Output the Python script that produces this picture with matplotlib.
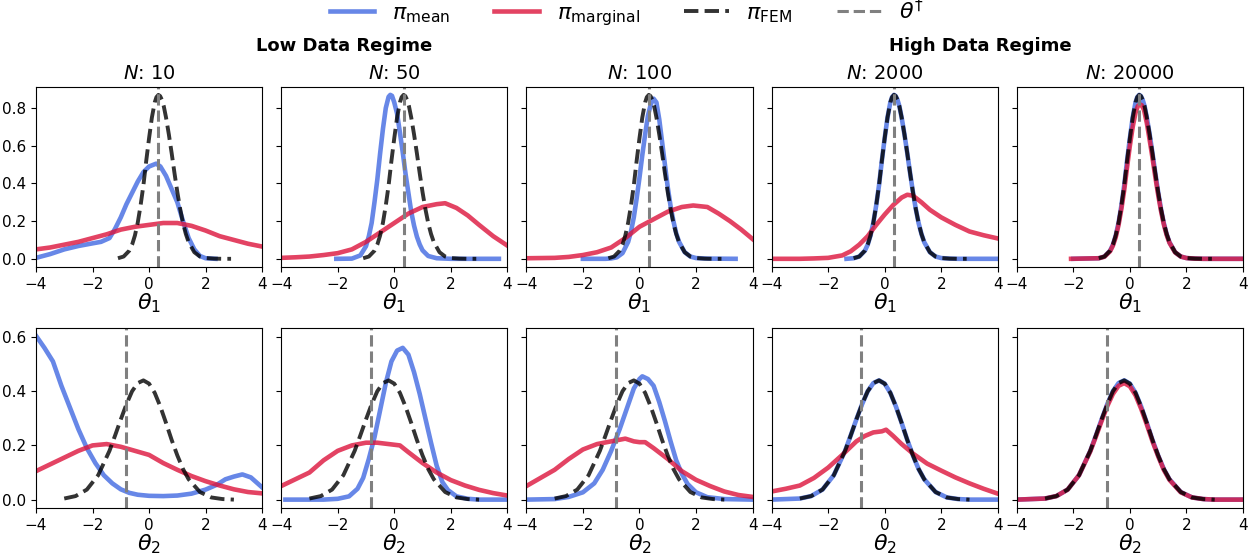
import matplotlib
matplotlib.use("Agg")
import matplotlib.pyplot as plt

# sample sizes per column
Ns = [10, 50, 100, 2000, 20000]
theta_true = [0.33, -0.82]

# ---- theta_1 (top row) ----
fem_t1_x = [-1.1, -0.9, -0.7, -0.6, -0.5, -0.4, -0.3, -0.2, -0.1, 0.0, 0.1, 0.2, 0.26, 0.33, 0.39, 0.45, 0.52, 0.6, 0.7, 0.8, 0.9, 1.0, 1.1, 1.2, 1.3, 1.4, 1.6, 1.8, 2.0, 2.3, 2.6, 2.9]
fem_t1_y = [0.003, 0.012, 0.043, 0.075, 0.124, 0.192, 0.283, 0.39, 0.52, 0.64, 0.75, 0.83, 0.858, 0.87, 0.864, 0.845, 0.81, 0.75, 0.66, 0.56, 0.454, 0.354, 0.265, 0.19, 0.132, 0.088, 0.035, 0.012, 0.004, 0.001, 0.0, 0.0]

mean_t1_10_x = [-4, -3.5, -3, -2.5, -2, -1.7, -1.4, -1.2, -1.0, -0.8, -0.6, -0.4, -0.2, 0.0, 0.25, 0.4, 0.6, 0.8, 1.0, 1.2, 1.4, 1.6, 1.8, 2.0, 2.35]
mean_t1_10_y = [0.005, 0.025, 0.05, 0.068, 0.082, 0.09, 0.11, 0.16, 0.22, 0.29, 0.35, 0.41, 0.46, 0.49, 0.505, 0.49, 0.44, 0.37, 0.30, 0.2, 0.11, 0.05, 0.015, 0.003, 0.0]
marg_t1_10_x = [-4, -3.5, -3, -2.5, -2, -1.5, -1, -0.5, 0, 0.5, 1, 1.5, 2, 2.5, 3, 3.5, 4]
marg_t1_10_y = [0.05, 0.06, 0.075, 0.09, 0.11, 0.13, 0.155, 0.17, 0.18, 0.19, 0.19, 0.175, 0.15, 0.12, 0.1, 0.08, 0.065]

mean_t1_50_x = [-2.05, -1.5, -1.2, -1.0, -0.9, -0.8, -0.7, -0.6, -0.5, -0.4, -0.3, -0.2, -0.14, -0.08, 0.0, 0.1, 0.2, 0.3, 0.4, 0.5, 0.6, 0.7, 0.8, 0.9, 1.0, 1.2, 1.5, 2.0, 3.7]
mean_t1_50_y = [0, 0.001, 0.018, 0.067, 0.119, 0.19, 0.30, 0.42, 0.56, 0.69, 0.80, 0.86, 0.87, 0.865, 0.83, 0.77, 0.67, 0.565, 0.45, 0.35, 0.25, 0.176, 0.118, 0.076, 0.045, 0.015, 0.003, 0, 0]
marg_t1_50_x = [-4, -3.5, -3, -2.5, -2, -1.5, -1, -0.5, 0, 0.5, 1, 1.5, 1.8, 2.2, 2.6, 3, 3.5, 4]
marg_t1_50_y = [0.005, 0.008, 0.012, 0.02, 0.03, 0.05, 0.09, 0.14, 0.19, 0.24, 0.275, 0.29, 0.295, 0.27, 0.23, 0.18, 0.12, 0.07]

mean_t1_100_x = [-2.0, -1.2, -1.0, -0.8, -0.6, -0.4, -0.3, -0.2, -0.1, 0.0, 0.1, 0.2, 0.3, 0.4, 0.5, 0.6, 0.7, 0.8, 0.9, 1.0, 1.1, 1.2, 1.3, 1.4, 1.6, 1.8, 2.0, 2.4, 3.4]
mean_t1_100_y = [0, 0, 0.002, 0.008, 0.03, 0.09, 0.145, 0.22, 0.32, 0.43, 0.55, 0.66, 0.76, 0.82, 0.85, 0.83, 0.74, 0.62, 0.5, 0.38, 0.28, 0.2, 0.135, 0.09, 0.035, 0.012, 0.004, 0.001, 0]
marg_t1_100_x = [-4, -3, -2.5, -2, -1.5, -1, -0.5, 0, 0.5, 1, 1.5, 1.9, 2.4, 2.8, 3.2, 3.6, 4]
marg_t1_100_y = [0.003, 0.005, 0.01, 0.02, 0.035, 0.06, 0.11, 0.17, 0.21, 0.25, 0.275, 0.283, 0.275, 0.24, 0.2, 0.155, 0.105]

mean_t1_2000_x = [-1.35, -1.1, -0.9, -0.7, -0.6, -0.5, -0.4, -0.3, -0.2, -0.1, 0.0, 0.1, 0.2, 0.26, 0.33, 0.39, 0.45, 0.52, 0.6, 0.7, 0.8, 0.9, 1.0, 1.1, 1.2, 1.3, 1.4, 1.6, 1.8, 2.0, 2.3, 2.6, 3.0, 4.0]
mean_t1_2000_y = [0, 0.003, 0.012, 0.043, 0.075, 0.124, 0.192, 0.283, 0.39, 0.52, 0.64, 0.75, 0.83, 0.858, 0.87, 0.864, 0.845, 0.81, 0.75, 0.66, 0.56, 0.454, 0.354, 0.265, 0.19, 0.132, 0.088, 0.035, 0.012, 0.004, 0.001, 0, 0, 0]
marg_t1_2000_x = [-4, -3, -2.5, -2, -1.5, -1.2, -0.9, -0.6, -0.3, 0, 0.3, 0.6, 0.8, 1.0, 1.3, 1.6, 2.0, 2.5, 3.0, 3.5, 4.0]
marg_t1_2000_y = [0, 0, 0.002, 0.005, 0.018, 0.04, 0.075, 0.12, 0.18, 0.235, 0.285, 0.325, 0.34, 0.335, 0.3, 0.26, 0.22, 0.18, 0.145, 0.125, 0.108]

mean_t1_20000_x = [-2.0, -1.1, -0.9, -0.7, -0.6, -0.5, -0.4, -0.3, -0.2, -0.1, 0.0, 0.1, 0.2, 0.26, 0.33, 0.39, 0.45, 0.52, 0.6, 0.7, 0.8, 0.9, 1.0, 1.1, 1.2, 1.3, 1.4, 1.6, 1.8, 2.0, 2.3, 2.6, 3.0, 4.0]
mean_t1_20000_y = [0, 0.003, 0.012, 0.043, 0.075, 0.124, 0.192, 0.283, 0.39, 0.52, 0.64, 0.75, 0.83, 0.858, 0.87, 0.864, 0.845, 0.81, 0.75, 0.66, 0.56, 0.454, 0.354, 0.265, 0.19, 0.132, 0.088, 0.035, 0.012, 0.004, 0.001, 0, 0, 0]
marg_t1_20000_x = [-2.08, -1.1, -0.9, -0.7, -0.6, -0.5, -0.4, -0.3, -0.2, -0.1, 0.0, 0.1, 0.2, 0.28, 0.35, 0.42, 0.5, 0.6, 0.7, 0.8, 0.9, 1.0, 1.1, 1.2, 1.3, 1.4, 1.6, 1.8, 2.0, 2.3, 2.6, 3.0, 4.0]
marg_t1_20000_y = [0, 0.003, 0.011, 0.04, 0.07, 0.115, 0.18, 0.265, 0.365, 0.485, 0.6, 0.7, 0.775, 0.81, 0.82, 0.815, 0.79, 0.72, 0.63, 0.535, 0.435, 0.34, 0.255, 0.183, 0.127, 0.085, 0.034, 0.012, 0.004, 0.001, 0, 0, 0]

# ---- theta_2 (bottom row) ----
fem_t2_x = [-3.0, -2.6, -2.2, -1.8, -1.4, -1.2, -1.0, -0.8, -0.6, -0.4, -0.2, 0.0, 0.2, 0.4, 0.6, 0.8, 1.0, 1.2, 1.4, 1.8, 2.2, 2.6, 3.0]
fem_t2_y = [0.004, 0.013, 0.037, 0.09, 0.18, 0.237, 0.296, 0.352, 0.4, 0.43, 0.44, 0.428, 0.394, 0.343, 0.283, 0.22, 0.163, 0.113, 0.075, 0.028, 0.008, 0.002, 0.0]

mean_t2_10_x = [-4, -3.7, -3.4, -3.1, -2.8, -2.5, -2.2, -1.9, -1.6, -1.3, -1.0, -0.7, -0.4, 0, 0.5, 1.0, 1.5, 2.0, 2.4, 2.7, 3.0, 3.3, 3.6, 4.0]
mean_t2_10_y = [0.605, 0.56, 0.51, 0.42, 0.34, 0.26, 0.19, 0.135, 0.09, 0.06, 0.038, 0.025, 0.018, 0.014, 0.013, 0.015, 0.022, 0.037, 0.055, 0.075, 0.085, 0.093, 0.082, 0.045]
marg_t2_10_x = [-4, -3.5, -3, -2.5, -2, -1.5, -1, -0.5, 0, 0.5, 1, 1.5, 2, 2.5, 3, 3.5, 4]
marg_t2_10_y = [0.105, 0.13, 0.155, 0.18, 0.2, 0.205, 0.195, 0.18, 0.165, 0.135, 0.11, 0.087, 0.068, 0.052, 0.038, 0.028, 0.023]

mean_t2_50_x = [-3.85, -2.5, -2.0, -1.6, -1.3, -1.1, -0.9, -0.7, -0.5, -0.3, -0.1, 0.1, 0.3, 0.5, 0.7, 0.9, 1.1, 1.3, 1.5, 1.7, 1.9, 2.2, 2.6, 3.0, 4.0]
mean_t2_50_y = [0, 0, 0.003, 0.012, 0.04, 0.08, 0.15, 0.23, 0.33, 0.43, 0.51, 0.55, 0.56, 0.535, 0.47, 0.39, 0.3, 0.21, 0.125, 0.065, 0.035, 0.012, 0.003, 0, 0]
marg_t2_50_x = [-4, -3.5, -3, -2.5, -2, -1.5, -1, -0.6, -0.2, 0.2, 0.5, 1.0, 1.5, 2.0, 2.5, 3.0, 3.5, 4.0]
marg_t2_50_y = [0.05, 0.075, 0.1, 0.145, 0.18, 0.2, 0.21, 0.21, 0.205, 0.2, 0.175, 0.135, 0.1, 0.072, 0.052, 0.036, 0.024, 0.015]

mean_t2_100_x = [-4, -3, -2.5, -2.0, -1.6, -1.3, -1.0, -0.7, -0.4, -0.2, 0.0, 0.1, 0.3, 0.5, 0.7, 0.9, 1.1, 1.3, 1.5, 1.7, 2.0, 2.4, 3.0, 4.0]
mean_t2_100_y = [0.0, 0.002, 0.01, 0.027, 0.06, 0.11, 0.18, 0.26, 0.35, 0.41, 0.445, 0.455, 0.445, 0.42, 0.36, 0.29, 0.215, 0.145, 0.095, 0.058, 0.027, 0.009, 0.002, 0]
marg_t2_100_x = [-4, -3.5, -3.0, -2.5, -2.0, -1.5, -1.0, -0.5, -0.2, 0.0, 0.2, 0.5, 1.0, 1.5, 2.0, 2.5, 3.0, 3.5, 4.0]
marg_t2_100_y = [0.05, 0.08, 0.11, 0.15, 0.185, 0.205, 0.215, 0.225, 0.215, 0.212, 0.212, 0.19, 0.15, 0.105, 0.073, 0.05, 0.03, 0.017, 0.01]

mean_t2_2000_x = [-4.0, -3.0, -2.6, -2.2, -1.8, -1.4, -1.2, -1.0, -0.8, -0.6, -0.4, -0.2, 0.0, 0.2, 0.4, 0.6, 0.8, 1.0, 1.2, 1.4, 1.8, 2.2, 2.6, 3.0, 4.0]
mean_t2_2000_y = [0, 0.004, 0.013, 0.037, 0.09, 0.18, 0.237, 0.296, 0.352, 0.4, 0.43, 0.44, 0.428, 0.394, 0.343, 0.283, 0.22, 0.163, 0.113, 0.075, 0.028, 0.008, 0.002, 0.0, 0]
marg_t2_2000_x = [-4, -3.5, -3.0, -2.5, -2.0, -1.5, -1.0, -0.7, -0.4, -0.1, 0.05, 0.3, 0.6, 1.0, 1.5, 2.0, 2.5, 3.0, 3.5, 4.0]
marg_t2_2000_y = [0.03, 0.04, 0.052, 0.08, 0.118, 0.165, 0.215, 0.235, 0.248, 0.252, 0.258, 0.235, 0.205, 0.17, 0.133, 0.107, 0.082, 0.06, 0.04, 0.022]

mean_t2_20000_x = [-4.0, -3.0, -2.6, -2.2, -1.8, -1.4, -1.2, -1.0, -0.8, -0.6, -0.4, -0.2, 0.0, 0.2, 0.4, 0.6, 0.8, 1.0, 1.2, 1.4, 1.8, 2.2, 2.6, 3.0, 4.0]
mean_t2_20000_y = [0, 0.004, 0.013, 0.037, 0.09, 0.18, 0.237, 0.296, 0.352, 0.4, 0.43, 0.44, 0.428, 0.394, 0.343, 0.283, 0.22, 0.163, 0.113, 0.075, 0.028, 0.008, 0.002, 0.0, 0]
marg_t2_20000_x = [-4.0, -3.0, -2.6, -2.2, -1.8, -1.4, -1.2, -1.0, -0.8, -0.6, -0.4, -0.2, 0.0, 0.2, 0.4, 0.6, 0.8, 1.0, 1.2, 1.4, 1.8, 2.2, 2.6, 3.0, 4.0]
marg_t2_20000_y = [0, 0.004, 0.013, 0.037, 0.09, 0.178, 0.233, 0.29, 0.345, 0.39, 0.42, 0.43, 0.418, 0.385, 0.335, 0.277, 0.215, 0.16, 0.11, 0.073, 0.027, 0.008, 0.002, 0.0, 0]

mean_curves = [
    [(mean_t1_10_x, mean_t1_10_y), (mean_t1_50_x, mean_t1_50_y), (mean_t1_100_x, mean_t1_100_y),
     (mean_t1_2000_x, mean_t1_2000_y), (mean_t1_20000_x, mean_t1_20000_y)],
    [(mean_t2_10_x, mean_t2_10_y), (mean_t2_50_x, mean_t2_50_y), (mean_t2_100_x, mean_t2_100_y),
     (mean_t2_2000_x, mean_t2_2000_y), (mean_t2_20000_x, mean_t2_20000_y)],
]
marg_curves = [
    [(marg_t1_10_x, marg_t1_10_y), (marg_t1_50_x, marg_t1_50_y), (marg_t1_100_x, marg_t1_100_y),
     (marg_t1_2000_x, marg_t1_2000_y), (marg_t1_20000_x, marg_t1_20000_y)],
    [(marg_t2_10_x, marg_t2_10_y), (marg_t2_50_x, marg_t2_50_y), (marg_t2_100_x, marg_t2_100_y),
     (marg_t2_2000_x, marg_t2_2000_y), (marg_t2_20000_x, marg_t2_20000_y)],
]
fem_curves = [(fem_t1_x, fem_t1_y), (fem_t2_x, fem_t2_y)]

fig, axes = plt.subplots(2, 5, figsize=(12.53, 5.54), dpi=100, sharey='row')
fig.subplots_adjust(left=0.0287, right=0.992, top=0.843, bottom=0.083, wspace=0.084, hspace=0.34)

for r in range(2):
    for c in range(5):
        ax = axes[r, c]
        mx, my = mean_curves[r][c]
        gx, gy = marg_curves[r][c]
        fx, fy = fem_curves[r]
        ax.plot(mx, my, color='royalblue', alpha=0.8, lw=3.3, label=r'$\pi_{\mathrm{mean}}$')
        ax.plot(gx, gy, color='crimson', alpha=0.8, lw=3.3, label=r'$\pi_{\mathrm{marginal}}$')
        ax.plot(fx, fy, color='black', alpha=0.8, lw=2.8, ls='--', label=r'$\pi_{\mathrm{FEM}}$')
        ax.axvline(theta_true[r], color='gray', lw=2.2, ls='--', label=r'$\theta^{\dagger}$')
        ax.set_xlim(-4, 4)
        ax.set_xticks([-4, -2, 0, 2, 4])
        ax.tick_params(labelsize=11)
        ax.set_xlabel(r'$\theta_{%d}$' % (r + 1), fontsize=16, labelpad=0)
        if r == 0:
            ax.set_title(r'$N$: %d' % Ns[c], fontsize=14)

axes[0, 0].set_ylim(-0.043, 0.912)
axes[0, 0].set_yticks([0.0, 0.2, 0.4, 0.6, 0.8])
axes[1, 0].set_ylim(-0.031, 0.633)
axes[1, 0].set_yticks([0.0, 0.2, 0.4, 0.6])

fig.text(0.275, 0.917, 'Low Data Regime', ha='center', va='center', fontsize=13, fontweight='bold')
fig.text(0.782, 0.917, 'High Data Regime', ha='center', va='center', fontsize=13, fontweight='bold')

handles, labels = axes[0, 0].get_legend_handles_labels()
fig.legend(handles, labels, loc='upper center', ncol=4, frameon=False, fontsize=16,
           bbox_to_anchor=(0.5, 1.04))

plt.savefig('out.png', dpi=100)
